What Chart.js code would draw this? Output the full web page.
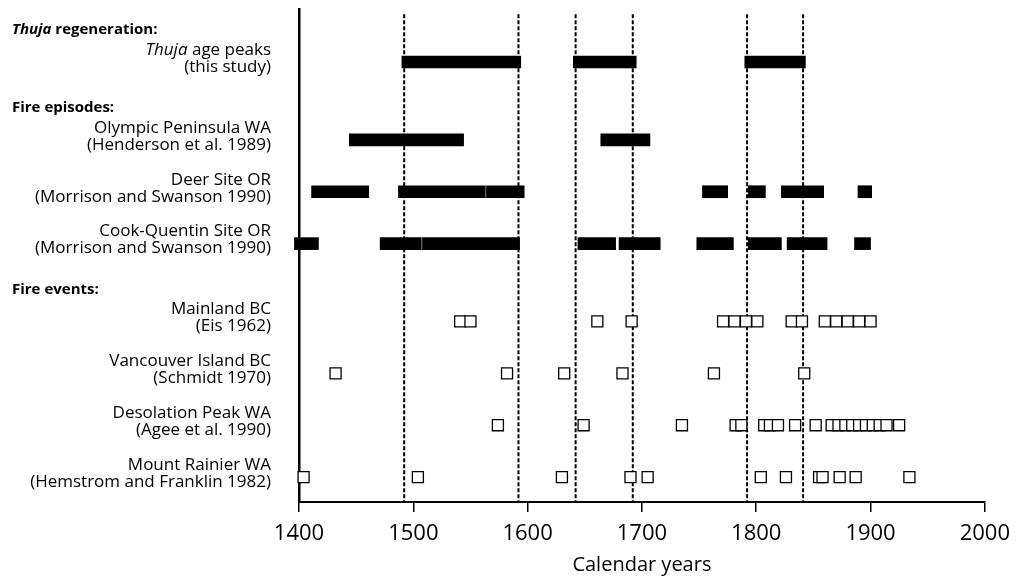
<!DOCTYPE html>
<html>
<head>
<meta charset="utf-8">
<script src="https://cdn.jsdelivr.net/npm/chart.js@4.4.0/dist/chart.umd.min.js"></script>
<style>
  html, body { margin: 0; background: #fff; }
  #wrap { width: 1019px; height: 576px; }
</style>
</head>
<body>
<div id="wrap"><canvas id="chart"></canvas></div>
<script>
// ─── Data (calendar years) ───────────────────────────────────────────────────
const rowLabels = [
  ["_Thuja_ age peaks", "(this study)"],
  ["Olympic Peninsula WA", "(Henderson et al. 1989)"],
  ["Deer Site OR", "(Morrison and Swanson 1990)"],
  ["Cook-Quentin Site OR", "(Morrison and Swanson 1990)"],
  ["Mainland BC", "(Eis 1962)"],
  ["Vancouver Island BC", "(Schmidt 1970)"],
  ["Desolation Peak WA", "(Agee et al. 1990)"],
  ["Mount Rainier WA", "(Hemstrom and Franklin 1982)"]
];
const rowPos = [0, 1.5, 2.5, 3.5, 5, 6, 7, 8];   // y index of each row (half-row gap for headers)
const groupHeads = ["_Thuja_ regeneration:", "Fire episodes:", "Fire events:"];
const groupStart = [0, 1, 4];                     // first row of each group

// fire episodes / regeneration peaks: [start, end]
const thujaPeaks   = [[1490, 1594], [1640, 1695], [1790, 1843]];
const olympicFires = [[1444, 1544], [1664, 1707]];
const deerFires    = [[1411, 1461], [1487, 1563], [1564, 1597], [1753, 1775], [1793, 1808],
                      [1822, 1859], [1889, 1901]];
const cookFires    = [[1396, 1417], [1471, 1507], [1508, 1593], [1644, 1677], [1680, 1716],
                      [1748, 1780], [1793, 1822], [1827, 1862], [1886, 1900]];

// single fire events
const mainlandBC   = [1541, 1550, 1661, 1691, 1771, 1781, 1791, 1801, 1831, 1840, 1860, 1870,
                      1880, 1890, 1900];
const vancouverBC  = [1432, 1582, 1632, 1683, 1763, 1842];
const desolationWA = [1574, 1649, 1735, 1782, 1787, 1807, 1812, 1819, 1834, 1852, 1866, 1872,
                      1878, 1884, 1890, 1896, 1902, 1908, 1914, 1925];
const rainierWA    = [1404, 1504, 1630, 1690, 1705, 1804, 1826, 1855, 1858, 1873, 1887, 1934];

// dashed reference lines (Thuja peak bounds)
const peakLines = [1492, 1592, 1642, 1692, 1792, 1841];

const X_MIN = 1400, X_MAX = 2000, X_STEP = 100;
const Y_MIN = -1.02, Y_MAX = 8.48, DASH_TOP = -0.92;

// ─── Helpers ──────────────────────────────────────────────────────────────────
const FONT = "'Open Sans', 'Noto Sans', sans-serif";

const barSet = (spans, row) => ({
  type: "bar",
  indexAxis: "y",
  data: spans.map(s => ({ x: s, y: rowPos[row] })),
  backgroundColor: "#000",
  borderWidth: 0,
  barThickness: 12,
  grouped: false,
  clip: false,
  order: 2
});

const eventSet = (years, row) => ({
  type: "scatter",
  data: years.map(v => ({ x: v, y: rowPos[row] })),
  pointStyle: "rect",
  pointRadius: 7.8,
  pointHoverRadius: 7.8,
  pointBackgroundColor: "#fff",
  pointBorderColor: "#000",
  pointBorderWidth: 1.3,
  clip: false,
  order: 1
});

const dashSet = yr => ({
  type: "line",
  data: [{ x: yr, y: DASH_TOP }, { x: yr, y: Y_MAX }],
  borderColor: "#000",
  borderWidth: 2,
  borderDash: [4, 2],
  pointRadius: 0,
  fill: false,
  order: 3
});

// text with _italic_ segments
function drawRich(ctx, txt, x, y, align, font) {
  const parts = txt.split("_");
  const fonts = parts.map((p, i) => (i % 2 ? "italic " : "") + font);
  let total = 0;
  parts.forEach((p, i) => { ctx.font = fonts[i]; total += ctx.measureText(p).width; });
  let cx = align === "right" ? x - total : x;
  parts.forEach((p, i) => {
    ctx.font = fonts[i];
    ctx.fillText(p, cx, y);
    cx += ctx.measureText(p).width;
  });
}

// two-line label per row, roughly centred on the row; group header above the first row
const labelPlugin = {
  id: "rowLabels",
  afterDraw(chart) {
    const ctx = chart.ctx;
    const ys = chart.scales.y;
    const firstLine = i => ys.getPixelForValue(rowPos[i]) - 12;
    ctx.save();
    ctx.fillStyle = "#000";
    ctx.textAlign = "left";
    ctx.textBaseline = "middle";
    rowLabels.forEach((lines, i) => {
      lines.forEach((t, k) => drawRich(ctx, t, 271, firstLine(i) + k * 17, "right", "17px " + FONT));
    });
    groupHeads.forEach((h, i) => {
      drawRich(ctx, h, 12, firstLine(groupStart[i]) - 20, "left", "bold 15px " + FONT);
    });
    ctx.restore();
  }
};

// ─── Chart ────────────────────────────────────────────────────────────────────
new Chart(document.getElementById("chart"), {
  data: {
    datasets: [
      eventSet(mainlandBC, 4),
      eventSet(vancouverBC, 5),
      eventSet(desolationWA, 6),
      eventSet(rainierWA, 7),
      barSet(thujaPeaks, 0),
      barSet(olympicFires, 1),
      barSet(deerFires, 2),
      barSet(cookFires, 3),
      ...peakLines.map(dashSet)
    ]
  },
  options: {
    responsive: true,
    maintainAspectRatio: false,
    animation: false,
    events: [],
    layout: { padding: { top: 8, right: 29, bottom: 0, left: 0 } },
    plugins: { legend: { display: false }, tooltip: { enabled: false } },
    scales: {
      x: {
        type: "linear",
        min: X_MIN, max: X_MAX,
        offset: false,
        afterBuildTicks: s => {
          const t = [];
          for (let v = X_MIN; v <= X_MAX; v += X_STEP) t.push({ value: v });
          s.ticks = t;
        },
        afterFit: s => { s.height = 74; },
        grid: { drawOnChartArea: false, drawTicks: true, tickLength: 10, color: "#000", lineWidth: 1.5 },
        border: { color: "#000", width: 2 },
        ticks: {
          color: "#000", padding: 9, maxRotation: 0,
          font: { family: FONT, size: 22 },
          callback: v => String(v)
        },
        title: {
          display: true, text: "Calendar years", color: "#000",
          font: { family: FONT, size: 20, lineHeight: 1.0 }, padding: { top: 0, bottom: 1 }
        }
      },
      y: {
        type: "linear",
        reverse: true,
        offset: false,
        min: Y_MIN, max: Y_MAX,
        afterFit: s => { s.width = 299; },
        grid: { display: false },
        border: { color: "#000", width: 2.5 },
        ticks: { display: false }
      }
    }
  },
  plugins: [labelPlugin]
});
</script>
</body>
</html>
